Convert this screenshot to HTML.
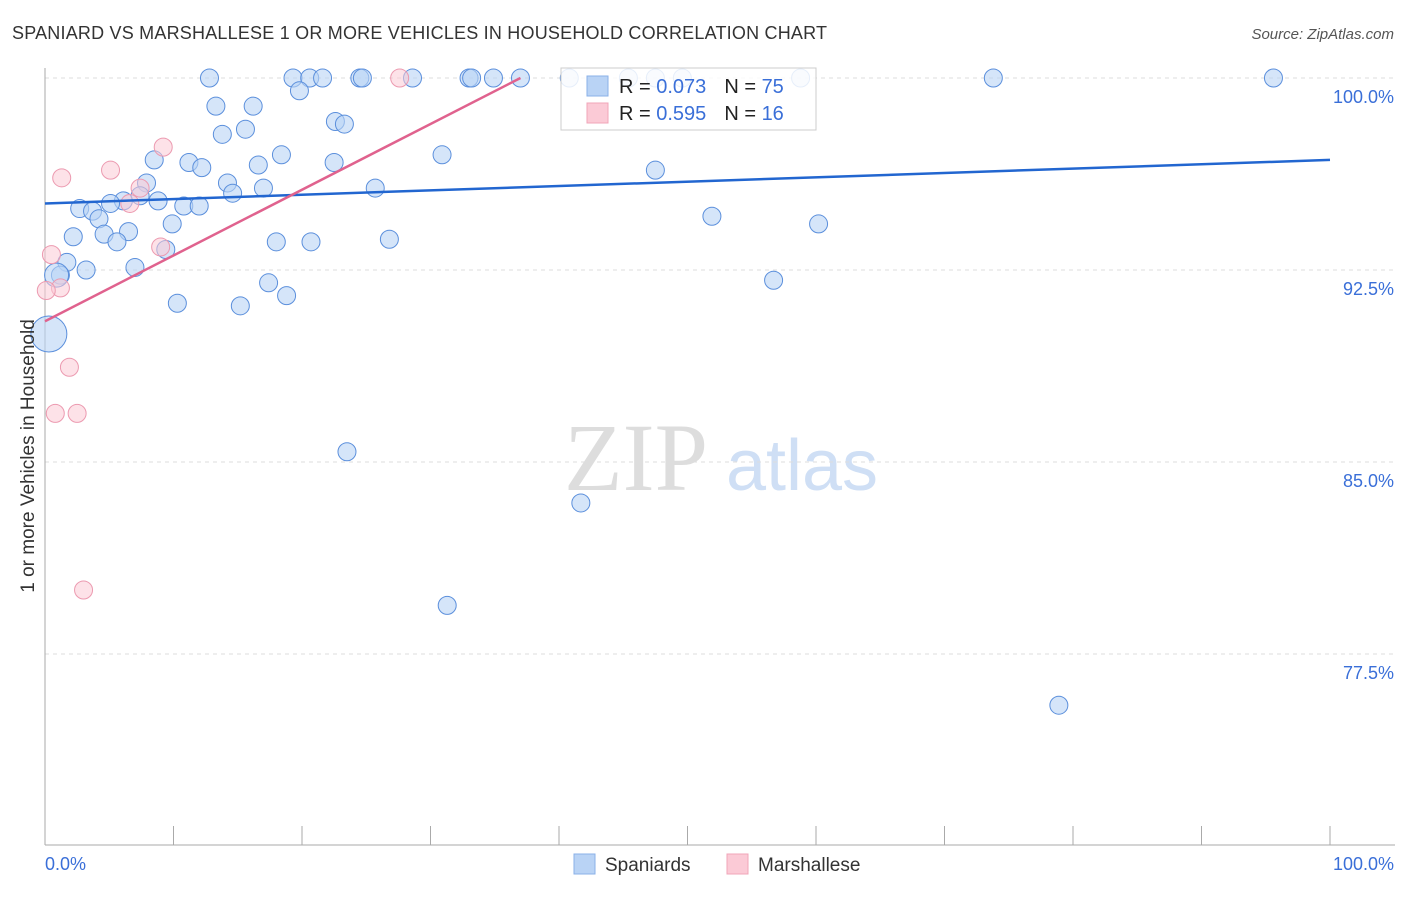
<!DOCTYPE html>
<html><head><meta charset="utf-8"><style>
body{margin:0;background:#fff;font-family:"Liberation Sans",sans-serif;}
</style></head><body>
<svg id="c" width="1406" height="892" xmlns="http://www.w3.org/2000/svg" font-family="Liberation Sans, sans-serif">
<text x="12" y="39" font-size="18" fill="#333" textLength="815">SPANIARD VS MARSHALLESE 1 OR MORE VEHICLES IN HOUSEHOLD CORRELATION CHART</text>
<text x="1394" y="39" font-size="15" fill="#555" font-style="italic" text-anchor="end">Source: ZipAtlas.com</text>
<text x="636" y="490" font-size="96" fill="#ddd" style="font-family:'Liberation Serif',serif" text-anchor="middle">ZIP</text>
<text x="802" y="490" font-size="72" fill="#cfdff5" text-anchor="middle">atlas</text>
<g id="grid"></g>
<g id="axes"></g>
<g id="pts"></g>
<g id="trend"></g>
<text transform="translate(34,456) rotate(-90)" font-size="19" fill="#333" text-anchor="middle">1 or more Vehicles in Household</text>
<text x="45" y="870" font-size="18" fill="#3a6fd8">0.0%</text>
<text x="1394" y="870" font-size="18" fill="#3a6fd8" text-anchor="end">100.0%</text>
<g>
<rect x="561" y="68" width="255" height="62" fill="#fff" fill-opacity="0.85" stroke="#ccc"/>
<rect x="587" y="76" width="21" height="20" fill="#b9d3f5" stroke="#8ab0e8"/>
<rect x="587" y="103" width="21" height="20" fill="#fbcad6" stroke="#f0a5b8"/>
<text x="619" y="93" font-size="20" fill="#222">R = <tspan fill="#3a6fd8">0.073</tspan><tspan dx="18">N = </tspan><tspan fill="#3a6fd8">75</tspan></text>
<text x="619" y="120" font-size="20" fill="#222">R = <tspan fill="#3a6fd8">0.595</tspan><tspan dx="18">N = </tspan><tspan fill="#3a6fd8"> 16</tspan></text>
</g>
<g>
<rect x="574" y="854" width="21" height="20" fill="#b9d3f5" stroke="#8ab0e8"/>
<text x="605" y="871" font-size="19" fill="#333">Spaniards</text>
<rect x="727" y="854" width="21" height="20" fill="#fbcad6" stroke="#f0a5b8"/>
<text x="758" y="871" font-size="19" fill="#333">Marshallese</text>
</g>
</svg>
<script>
const yTicks=[100,92.5,85,77.5];
const yTickLabels=["100.0%","92.5%","85.0%","77.5%"];
const xTicks=[0,10,20,30,40,50,60,70,80,90,100];
const blueX=[12.8,19.3,20.6,21.6,24.5,24.7,28.6,33.0,33.2,34.9,37.0,40.8,45.4,47.5,49.6,58.8,73.8,95.6,19.8,13.3,16.2,13.8,15.6,22.6,23.3,30.9,18.4,8.5,11.2,12.2,16.6,22.5,47.5,14.2,7.9,17.0,14.6,25.7,7.4,6.1,5.1,8.8,10.8,12.0,2.7,3.7,4.2,9.9,51.9,60.2,2.2,4.6,6.5,5.6,18.0,20.7,26.8,9.4,3.2,7.0,1.7,1.2,0.9,17.4,18.8,56.7,10.3,15.2,0.3,23.5,41.7,31.3,78.9];
const blueY=[100,100,100,100,100,100,100,100,100,100,100,100,100,100,100,100,100,100,99.5,98.9,98.9,97.8,98.0,98.3,98.2,97.0,97.0,96.8,96.7,96.5,96.6,96.7,96.4,95.9,95.9,95.7,95.5,95.7,95.4,95.2,95.1,95.2,95.0,95.0,94.9,94.8,94.5,94.3,94.6,94.3,93.8,93.9,94.0,93.6,93.6,93.6,93.7,93.3,92.5,92.6,92.8,92.3,92.3,92.0,91.5,92.1,91.2,91.1,90.0,85.4,83.4,79.4,75.5];
const blueR=[9,9,9,9,9,9,9,9,9,9,9,9,9,9,9,9,9,9,9,9,9,9,9,9,9,9,9,9,9,9,9,9,9,9,9,9,9,9,9,9,9,9,9,9,9,9,9,9,9,9,9,9,9,9,9,9,9,9,9,9,9,9,12,9,9,9,9,9,18,9,9,9,9];
const pinkX=[27.6,9.2,5.1,1.3,7.4,6.6,9.0,0.5,1.2,0.1,1.9,0.8,2.5,3.0];
const pinkY=[100,97.3,96.4,96.1,95.7,95.1,93.4,93.1,91.8,91.7,88.7,86.9,86.9,80.0];
const blueTrend=[[0,95.1],[100,96.8]];
const pinkTrend=[[0,90.5],[37,100]];
const X=v=>45+v*12.85, Y=v=>78+(100-v)*25.6;
const NS="http://www.w3.org/2000/svg";
function mk(tag,attrs,parent){const e=document.createElementNS(NS,tag);for(const k in attrs)e.setAttribute(k,attrs[k]);document.getElementById(parent).appendChild(e);return e;}
yTicks.forEach((t,i)=>{
 const l=mk('line',{x1:45,x2:1395,y1:Y(t),y2:Y(t),stroke:'#ddd','stroke-dasharray':'4,4'},'grid');
 
 
 const tx=mk('text',{x:1394,y:Y(t)+25,'font-size':18,fill:'#3a6fd8','text-anchor':'end'},'grid');
 tx.textContent=yTickLabels[i];
 
 
});
const ax=mk('line',{x1:45,x2:45,y1:68,y2:845,stroke:'#aaa'},'axes');


const bx=mk('line',{x1:45,x2:1395,y1:845,y2:845,stroke:'#aaa'},'axes');


xTicks.forEach(t=>{
 const l=mk('line',{x1:X(t),x2:X(t),y1:826,y2:845,stroke:'#aaa'},'axes');
 
 
});
blueX.forEach((x,i)=>{
 const c=mk('circle',{cx:X(x),cy:Y(blueY[i]),r:blueR[i],fill:'#b9d3f5','fill-opacity':0.6,stroke:'#5b8fdc','stroke-width':1},'pts');
 
 
});
pinkX.forEach((x,i)=>{
 const c=mk('circle',{cx:X(x),cy:Y(pinkY[i]),r:9,fill:'#fbcad6','fill-opacity':0.55,stroke:'#ec9ab0','stroke-width':1},'pts');
 
 
});
const bl=mk('line',{x1:X(blueTrend[0][0]),y1:Y(blueTrend[0][1]),x2:X(blueTrend[1][0]),y2:Y(blueTrend[1][1]),stroke:'#2266d0','stroke-width':2.5},'trend');


const pl=mk('line',{x1:X(pinkTrend[0][0]),y1:Y(pinkTrend[0][1]),x2:X(pinkTrend[1][0]),y2:Y(pinkTrend[1][1]),stroke:'#e0628e','stroke-width':2.5},'trend');


</script>
</body></html>
